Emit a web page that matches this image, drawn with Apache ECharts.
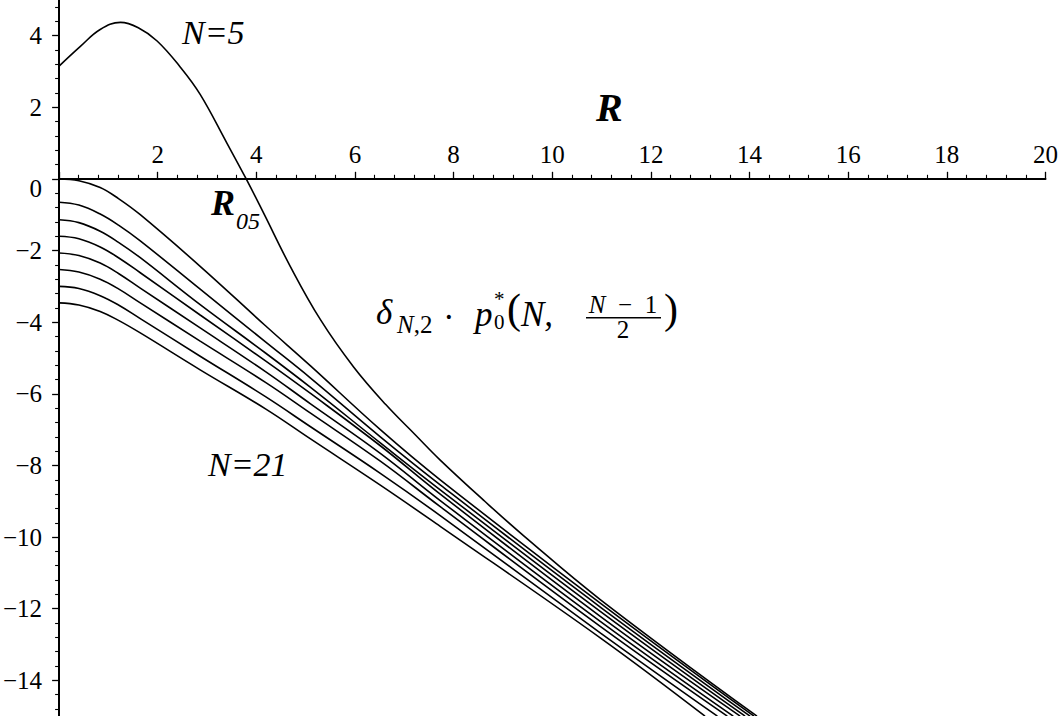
<!DOCTYPE html>
<html>
<head>
<meta charset="utf-8">
<script src="https://cdn.jsdelivr.net/npm/echarts@6/dist/echarts.min.js"></script>
<style>
html,body{margin:0;padding:0;background:#fff;overflow:hidden;width:1061px;height:716px;}
#c{position:absolute;left:0;top:-35.8px;width:1061px;height:787.6px;}
</style>
</head>
<body>
<div id="c"></div>
<script>
// ---- data ----
const X_TICKS = [2, 4, 6, 8, 10, 12, 14, 16, 18, 20];
const Y_TICKS = [4, 2, 0, -2, -4, -6, -8, -10, -12, -14];

// N = 5 curve
const R_N5 = [0, 0.43, 0.83, 1.24, 1.6, 1.98, 2.45, 2.85, 3.39, 3.78, 4.13, 4.67, 5.28, 5.95, 6.6, 7.2, 7.7, 8.6, 9.4, 10.94, 14.1];
const V_N5 = [3.15, 3.70, 4.17, 4.37, 4.22, 3.85, 3.12, 2.36, 1.0, 0, -0.95, -2.44, -3.93, -5.25, -6.3, -7.15, -7.85, -9.0, -9.98, -11.75, -15];

// N = 7 ... 21 curves, sampled at common R values, then each curve's exit at v = -15
const R_COMMON = [0, 0.4, 0.83, 1.2, 1.64, 2.85, 4.17, 5.08, 6.49, 7.70, 10.94];
const V_N7  = [0,     -0.05, -0.24, -0.55, -1.00, -2.44, -4.10, -5.22, -7.00, -8.40, -11.85];
const V_N9  = [-0.65, -0.73, -0.98, -1.29, -1.73, -3.08, -4.55, -5.56, -7.20, -8.54, -11.96];
const V_N11 = [-1.14, -1.22, -1.46, -1.77, -2.20, -3.51, -4.86, -5.82, -7.37, -8.68, -12.08];
const V_N13 = [-1.60, -1.67, -1.90, -2.20, -2.62, -3.80, -5.08, -5.99, -7.45, -8.80, -12.22];
const V_N15 = [-2.07, -2.14, -2.35, -2.64, -3.05, -4.16, -5.38, -6.28, -7.66, -8.98, -12.36];
const V_N17 = [-2.53, -2.60, -2.80, -3.07, -3.46, -4.53, -5.68, -6.54, -7.88, -9.15, -12.50];
const V_N19 = [-3.00, -3.06, -3.26, -3.52, -3.90, -4.95, -6.08, -6.92, -8.22, -9.40, -12.68];
const V_N21 = [-3.46, -3.52, -3.70, -3.95, -4.30, -5.33, -6.42, -7.26, -8.55, -9.70, -12.82];
const N_VALUES = [7, 9, 11, 13, 15, 17, 19, 21];
const R_EXIT = [14.04, 13.96, 13.86, 13.76, 13.62, 13.50, 13.30, 13.05];
const V_EXIT = -15;

// ---- build ----
const FONT = 'Liberation Serif';
const OFF = 35.8; // chart div starts 35.8px above the window (one unit of y)
const bundle = [V_N7, V_N9, V_N11, V_N13, V_N15, V_N17, V_N19, V_N21];

function zip(rs, vs) { return rs.map((r, i) => [r, vs[i]]); }

const lineStyle = { color: '#000', width: 1.6 };
const series = [];
series.push({
  name: 'N=5', type: 'line', xAxisIndex: 0, yAxisIndex: 0, data: zip(R_N5, V_N5), showSymbol: false,
  smooth: 0.4, lineStyle, animation: false, silent: true
});
bundle.forEach((vs, i) => {
  const pts = zip(R_COMMON, vs);
  pts.push([R_EXIT[i], V_EXIT]);
  series.push({
    name: 'N=' + N_VALUES[i], type: 'line', xAxisIndex: 0, yAxisIndex: 0, data: pts, showSymbol: false,
    smooth: 0.4, lineStyle, animation: false, silent: true
  });
});

const chart = echarts.init(document.getElementById('c'), null, { renderer: 'svg' });

const italic = (size) => 'italic ' + size + 'px "' + FONT + '"';
const roman = (size) => size + 'px "' + FONT + '"';
function txt(x, y, text, font, align, extra) {
  return { type: 'text', x: x, y: y + OFF,
    style: Object.assign({ text: text, font: font, fill: '#000', textAlign: align || 'left', textVerticalAlign: 'middle' }, extra || {}) };
}

chart.setOption({
  backgroundColor: '#fff',
  animation: false,
  grid: [
    { left: 59, right: 12, top: 0, bottom: 0 },
    { left: 59, right: 12, top: 0, height: 6 * 35.8 }
  ],
  xAxis: [
    { gridIndex: 0, type: 'value', min: 0, max: 20, interval: 2, show: false },
    {
      gridIndex: 1, type: 'value', min: 0, max: 20, interval: 2, position: 'bottom',
      axisLine: { onZero: false, lineStyle: { color: '#000', width: 2 } },
      axisTick: { show: true, inside: true, length: 7, lineStyle: { color: '#000', width: 1.3 } },
      minorTick: { show: true, splitNumber: 5, length: 4, lineStyle: { color: '#000', width: 1.1 } },
      splitLine: { show: false },
      axisLabel: {
        inside: true, margin: 12, showMinLabel: false,
        color: '#000', fontFamily: FONT, fontSize: 25,
        formatter: v => X_TICKS.includes(v) ? String(v) : ''
      }
    }
  ],
  yAxis: [
    {
      gridIndex: 0, type: 'value', min: -16, max: 6, interval: 2,
      axisLine: { onZero: false, lineStyle: { color: '#000', width: 2 } },
      axisTick: { show: true, length: 7, lineStyle: { color: '#000', width: 1.3 } },
      minorTick: { show: true, splitNumber: 5, length: 4, lineStyle: { color: '#000', width: 1.1 } },
      splitLine: { show: false },
      axisLabel: {
        margin: 17, color: '#000', fontFamily: FONT, fontSize: 25,
        formatter: v => {
          if (!Y_TICKS.includes(v)) return '';
          if (v === 0) return '{z|0}';
          return v < 0 ? '\u2212' + (-v) : String(v);
        },
        rich: { z: { padding: [20, 0, 0, 0], fontFamily: FONT, fontSize: 25, color: '#000' } }
      }
    },
    { gridIndex: 1, type: 'value', min: 0, max: 1, show: false }
  ],
  series,
  graphic: [
    txt(182, 33, 'N=5', italic(34)),
    txt(208, 465, 'N=21', italic(34)),
    txt(596, 108, 'R', 'italic bold 40px "' + FONT + '"'),
    txt(211, 203, 'R', 'italic bold 36px "' + FONT + '"'),
    txt(236, 221, '05', italic(24)),
    // formula  δ_{N,2} · p0*(N, (N−1)/2)
    txt(376, 313, 'δ', italic(35)),
    txt(397, 325, '{a|N}{b|,2}', italic(25), 'left', {
      rich: { a: { font: italic(25), fill: '#000' }, b: { font: roman(25), fill: '#000' } } }),
    txt(443, 318, '·', roman(35)),
    txt(475, 315, 'p', italic(35)),
    txt(494, 299, '*', roman(21)),
    txt(494, 322, '0', roman(21)),
    txt(507, 309, '(', roman(42)),
    txt(521, 315, 'N,', italic(35)),
    txt(623, 305, '{a|N}{b|\u2002\u2212\u20021}', italic(25), 'center', {
      rich: { a: { font: italic(25), fill: '#000' }, b: { font: roman(25), fill: '#000' } } }),
    { type: 'line', shape: { x1: 586, y1: 318 + OFF, x2: 661, y2: 318 + OFF }, style: { stroke: '#000', lineWidth: 1.5 } },
    txt(623, 330, '2', roman(25), 'center'),
    txt(664, 309, ')', roman(42))
  ]
});
</script>
</body>
</html>
